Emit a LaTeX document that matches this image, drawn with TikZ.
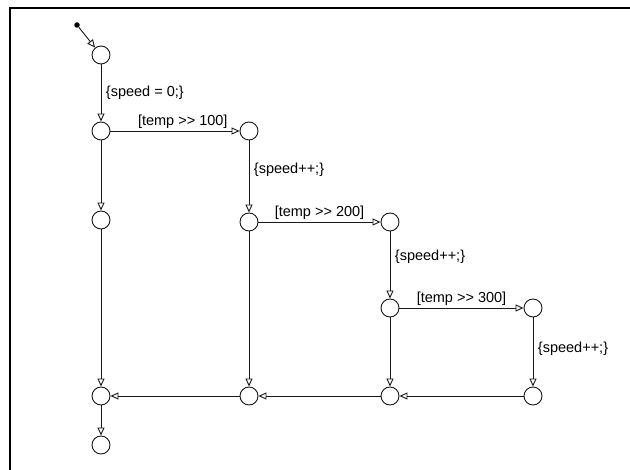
\documentclass[tikz,border=0pt]{standalone}
\usepackage{fontspec}
\setmainfont{Liberation Sans}
\usetikzlibrary{arrows.meta}
\tikzset{
	state/.style={circle, draw=black!90, line width=0.9pt, minimum size=18pt, inner sep=0pt},
	trans/.style={draw=black!90, line width=0.9pt, -{Triangle[open, length=8pt, width=7pt]}},
	lab/.style={font=\fontsize{14.5}{16}\selectfont, inner sep=1.5pt}
}
\newcommand{\gtgt}{{>}{>}}

\begin{document}
\begin{tikzpicture}[x=1pt, y=-1pt]
			\useasboundingbox (0,0) rectangle (630,470);
			\draw[line width=1.2pt] (630,8) -- (10,8) -- (10,470);
			\node[circle, fill=black, inner sep=0pt, minimum size=5.5pt] (init) at (77,25) {};
			\node[state] (s0) at (101,55) {};
			\node[state] (s1) at (101,131) {};
			\node[state] (s2) at (249,131) {};
			\node[state] (s3) at (101,220) {};
			\node[state] (s4) at (249,222) {};
			\node[state] (s5) at (390,222) {};
			\node[state] (s6) at (390,308) {};
			\node[state] (s7) at (533,308) {};
			\node[state] (j1) at (101,396) {};
			\node[state] (j2) at (249,396) {};
			\node[state] (j3) at (390,396) {};
			\node[state] (j4) at (533,396) {};
			\node[state] (done) at (101,445) {};
			\draw[trans] (init) -- (s0);
			\draw[trans] (s0) -- node[lab, right=3pt, pos=0.5] {\{speed = 0;\}} (s1);
			\draw[trans] (s1) -- node[lab, above=0.5pt, pos=0.56] {[temp \gtgt\ 100]} (s2);
			\draw[trans] (s2) -- node[lab, right=3pt, pos=0.4] {\{speed++;\}} (s4);
			\draw[trans] (s1) -- (s3);
			\draw[trans] (s3) -- (j1);
			\draw[trans] (s4) -- node[lab, above=0.5pt, pos=0.5] {[temp \gtgt\ 200]} (s5);
			\draw[trans] (s5) -- node[lab, right=3pt, pos=0.38] {\{speed++;\}} (s6);
			\draw[trans] (s4) -- (j2);
			\draw[trans] (s6) -- node[lab, above=0.5pt, pos=0.5] {[temp \gtgt\ 300]} (s7);
			\draw[trans] (s7) -- node[lab, right=3pt, pos=0.45] {\{speed++;\}} (j4);
			\draw[trans] (s6) -- (j3);
			\draw[trans] (j4) -- (j3);
			\draw[trans] (j3) -- (j2);
			\draw[trans] (j2) -- (j1);
			\draw[trans] (j1) -- (done);
		\end{tikzpicture}
\end{document}
